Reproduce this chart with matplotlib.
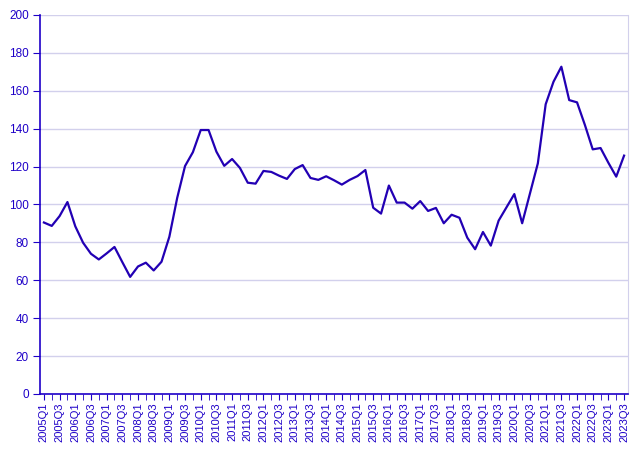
import numpy as np
import matplotlib.pyplot as plt

plt.rcParams['font.family'] = ['Liberation Sans', 'DejaVu Sans']

# Quarterly values, 2005Q1 - 2023Q3
quarters = [f"{y}Q{q}" for y in range(2005, 2024) for q in range(1, 5)][:75]
values = [
    90.5, 88.7, 93.9, 101.3,   # 2005
    88.5, 79.8, 74.0, 71.0,    # 2006
    74.2, 77.6, 69.6, 61.8,    # 2007
    67.3, 69.3, 65.2, 69.8,    # 2008
    83.0, 103.5, 120.3, 127.6, # 2009
    139.3, 139.3, 127.9, 120.4,# 2010
    124.0, 119.3, 111.5, 111.0,# 2011
    117.7, 117.2, 115.2, 113.5,# 2012
    118.7, 120.8, 114.0, 113.0,# 2013
    114.9, 112.8, 110.5, 113.0,# 2014
    115.0, 118.2, 98.3, 95.2,  # 2015
    110.0, 101.0, 101.0, 97.8, # 2016
    101.8, 96.6, 98.2, 90.1,   # 2017
    94.6, 93.0, 82.5, 76.4,    # 2018
    85.5, 78.3, 91.5, 98.5,    # 2019
    105.5, 90.1, 105.9, 121.7, # 2020
    152.9, 164.8, 172.7, 155.1,# 2021
    153.9, 142.0, 129.1, 129.8,# 2022
    122.0, 114.7, 125.8,       # 2023
]

text_col = '#1E00C8'
line_col = '#2200B4'
grid_col = '#D2D0EC'

fig = plt.figure(figsize=(6.43, 4.54), dpi=100)
ax = fig.add_axes([40 / 643, 60 / 454, 588 / 643, 379 / 454])

x = np.arange(len(values))
ax.plot(x, values, color=line_col, linewidth=1.6)

ax.set_xlim(-0.5, len(values) - 0.5)
ax.set_ylim(0, 200)
ax.set_yticks(range(0, 201, 20))
ax.yaxis.grid(True, color=grid_col, linewidth=1)
ax.set_axisbelow(True)

ax.set_xticks(x, minor=True)
ax.set_xticks(x[::2])
ax.set_xticklabels(quarters[::2], rotation=90)
ax.tick_params(axis='x', which='both', length=4, color=text_col, labelsize=8,
               labelcolor=text_col, pad=2)
ax.tick_params(axis='y', length=5, color=text_col, labelsize=8.5,
               labelcolor=text_col, pad=3)

for s in ['left', 'bottom']:
    ax.spines[s].set_color(text_col)
    ax.spines[s].set_linewidth(1.2)
ax.spines['right'].set_color(grid_col)
ax.spines['top'].set_visible(False)

fig.savefig('out.png', dpi=100)
